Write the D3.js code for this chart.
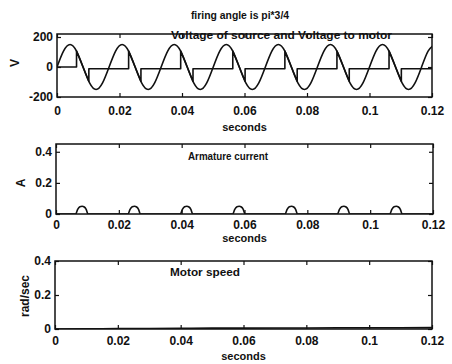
<!DOCTYPE html>
<html>
<head>
<meta charset="utf-8">
<script src="https://cdn.jsdelivr.net/npm/d3@7"></script>
<style>
  body { margin: 0; background: #fff; }
  svg text { font-family: "Liberation Sans", Arial, sans-serif; font-weight: bold; fill: #111; }
</style>
</head>
<body>
<div id="chart"></div>
<script>
// x ticks shared by all three panels
const xTicks = [0, 0.02, 0.04, 0.06, 0.08, 0.1, 0.12];
const xTickLabels = ["0", "0.02", "0.04", "0.06", "0.08", "0.1", "0.12"];

// source voltage (read every 1/8 period)
const srcT = [0, 0.00208, 0.00417, 0.00625, 0.00833, 0.01042, 0.0125, 0.01458,
  0.01667, 0.01875, 0.02083, 0.02292, 0.025, 0.02708, 0.02917, 0.03125,
  0.03333, 0.03542, 0.0375, 0.03958, 0.04167, 0.04375, 0.04583, 0.04792,
  0.05, 0.05208, 0.05417, 0.05625, 0.05833, 0.06042, 0.0625, 0.06458,
  0.06667, 0.06875, 0.07083, 0.07292, 0.075, 0.07708, 0.07917, 0.08125,
  0.08333, 0.08542, 0.0875, 0.08958, 0.09167, 0.09375, 0.09583, 0.09792,
  0.1, 0.10208, 0.10417, 0.10625, 0.10833, 0.11042, 0.1125, 0.11458,
  0.11667, 0.11875, 0.12083];
const srcV = [0, 106, 150, 106, 0, -106, -150, -106,
  0, 106, 150, 106, 0, -106, -150, -106,
  0, 106, 150, 106, 0, -106, -150, -106,
  0, 106, 150, 106, 0, -106, -150, -106,
  0, 106, 150, 106, 0, -106, -150, -106,
  0, 106, 150, 106, 0, -106, -150, -106,
  0, 106, 150, 106, 0, -106, -150, -106,
  0, 106, 150];

// voltage to motor (firing at 3pi/4, conduction ends around 220 deg)
const motT = [0, 0.00625, 0.00625, 0.00833, 0.01019, 0.01019,
  0.02292, 0.02292, 0.025, 0.02686, 0.02686,
  0.03958, 0.03958, 0.04167, 0.04352, 0.04352,
  0.05625, 0.05625, 0.05833, 0.06019, 0.06019,
  0.07292, 0.07292, 0.075, 0.07686, 0.07686,
  0.08958, 0.08958, 0.09167, 0.09352, 0.09352,
  0.10625, 0.10625, 0.10833, 0.11019, 0.11019, 0.12];
const motV = [0, 0, 106, 0, -95, -12,
  -12, 106, 0, -95, -12,
  -12, 106, 0, -95, -12,
  -12, 106, 0, -95, -12,
  -12, 106, 0, -95, -12,
  -12, 106, 0, -95, -12,
  -12, 106, 0, -95, -12, -12];

// armature current
const curT = [0,
  0.00625, 0.0069, 0.0076, 0.0083, 0.009, 0.0096, 0.01019,
  0.02292, 0.02357, 0.02427, 0.02497, 0.02567, 0.02627, 0.02686,
  0.03958, 0.04023, 0.04093, 0.04163, 0.04233, 0.04293, 0.04352,
  0.05625, 0.0569, 0.0576, 0.0583, 0.059, 0.0596, 0.06019,
  0.07292, 0.07357, 0.07427, 0.07497, 0.07567, 0.07627, 0.07686,
  0.08958, 0.09023, 0.09093, 0.09163, 0.09233, 0.09293, 0.09352,
  0.10625, 0.1069, 0.1076, 0.1083, 0.109, 0.1096, 0.11019,
  0.12];
const curA = [0,
  0, 0.03, 0.047, 0.05, 0.045, 0.03, 0,
  0, 0.03, 0.047, 0.05, 0.045, 0.03, 0,
  0, 0.03, 0.047, 0.05, 0.045, 0.03, 0,
  0, 0.03, 0.047, 0.05, 0.045, 0.03, 0,
  0, 0.03, 0.047, 0.05, 0.045, 0.03, 0,
  0, 0.03, 0.047, 0.05, 0.045, 0.03, 0,
  0, 0.03, 0.047, 0.05, 0.045, 0.03, 0,
  0];

// motor speed
const spdT = [0, 0.01, 0.02, 0.03, 0.04, 0.05, 0.06, 0.07, 0.08, 0.09, 0.1, 0.11, 0.12];
const spdW = [0, 0.001, 0.002, 0.003, 0.004, 0.005, 0.005, 0.006, 0.006, 0.007, 0.007, 0.007, 0.008];

const width = 452, height = 364;
const svg = d3.select("#chart").append("svg")
  .attr("width", width)
  .attr("height", height);

// title
svg.append("text")
  .attr("x", 240)
  .attr("y", 19)
  .attr("text-anchor", "middle")
  .style("font-size", "10.4px")
  .text("firing angle is pi*3/4");

function drawPanel(p) {
  const x = d3.scaleLinear().domain([0, 0.12]).range([p.left, p.right]);
  const y = d3.scaleLinear().domain(p.yDomain).range([p.bottom, p.top]);
  const g = svg.append("g");

  // clip so curves stay inside the box
  g.append("clipPath").attr("id", p.id)
    .append("rect")
    .attr("x", p.left).attr("y", p.top)
    .attr("width", p.right - p.left).attr("height", p.bottom - p.top);

  // bottom axis with labels, inward ticks
  const xb = g.append("g")
    .attr("transform", `translate(0,${p.bottom})`)
    .call(d3.axisBottom(x).tickValues(xTicks)
      .tickFormat((d, i) => xTickLabels[i])
      .tickSizeInner(-4).tickSizeOuter(0).tickPadding(p.xPad));
  // top ticks
  const xt = g.append("g")
    .attr("transform", `translate(0,${p.top})`)
    .call(d3.axisTop(x).tickValues(xTicks).tickFormat("").tickSizeInner(-4).tickSizeOuter(0));
  // left axis
  const yl = g.append("g")
    .attr("transform", `translate(${p.left},0)`)
    .call(d3.axisLeft(y).tickValues(p.yTicks)
      .tickFormat((d, i) => p.yLabels[i])
      .tickSizeInner(-4).tickSizeOuter(0).tickPadding(4));
  // right ticks
  const yr = g.append("g")
    .attr("transform", `translate(${p.right},0)`)
    .call(d3.axisRight(y).tickValues(p.yTicks).tickFormat("").tickSizeInner(-4).tickSizeOuter(0));

  [xb, xt, yl, yr].forEach(a => {
    a.select(".domain").remove();
    a.selectAll("line").attr("stroke", "#111").attr("stroke-width", 1.2);
    a.selectAll("text").style("font-size", "12px").attr("fill", "#111");
  });

  // box
  g.append("rect")
    .attr("x", p.left).attr("y", p.top)
    .attr("width", p.right - p.left).attr("height", p.bottom - p.top)
    .attr("fill", "none")
    .attr("stroke", "#111")
    .attr("stroke-width", 1.5);

  // x label
  g.append("text")
    .attr("x", (p.left + p.right) / 2)
    .attr("y", p.secY)
    .attr("text-anchor", "middle")
    .style("font-size", "11px")
    .text("seconds");

  // y label
  g.append("text")
    .attr("transform", `translate(${p.yLabX},${p.yLabY}) rotate(-90)`)
    .attr("text-anchor", "middle")
    .style("font-size", "12px")
    .text(p.yLabel);

  // text inside the axes
  g.append("text")
    .attr("x", p.noteX)
    .attr("y", p.noteY)
    .attr("textLength", p.noteW)
    .attr("lengthAdjust", "spacingAndGlyphs")
    .style("font-size", p.noteSize)
    .text(p.note);

  return { x, y, g };
}

function drawLine(panel, id, xs, ys, curve) {
  const pts = xs.map((t, i) => [t, ys[i]]);
  panel.g.append("path")
    .datum(pts)
    .attr("clip-path", `url(#${id})`)
    .attr("fill", "none")
    .attr("stroke", "#111")
    .attr("stroke-width", 1.6)
    .attr("stroke-linejoin", "round")
    .attr("d", d3.line()
      .x(d => panel.x(d[0]))
      .y(d => panel.y(d[1]))
      .curve(curve));
}

// panel 1: voltages
const p1 = drawPanel({
  id: "c1", left: 57, right: 432, top: 34, bottom: 97,
  yDomain: [-200, 220], yTicks: [-200, 0, 200], yLabels: ["-200", "0", "200"],
  xPad: 9, secY: 131, yLabel: "V", yLabX: 19, yLabY: 63,
  note: "Voltage of source and Voltage to motor", noteX: 171, noteY: 38.5, noteW: 221, noteSize: "11.5px"
});
drawLine(p1, "c1", srcT, srcV, d3.curveNatural);
drawLine(p1, "c1", motT, motV, d3.curveLinear);

// panel 2: armature current
const p2 = drawPanel({
  id: "c2", left: 56, right: 433, top: 144, bottom: 214,
  yDomain: [0, 0.45], yTicks: [0, 0.2, 0.4], yLabels: ["0", "0.2", "0.4"],
  xPad: 6, secY: 242, yLabel: "A", yLabX: 25, yLabY: 183,
  note: "Armature current", noteX: 188, noteY: 160, noteW: 80, noteSize: "11px"
});
drawLine(p2, "c2", curT, curA, d3.curveMonotoneX);

// panel 3: motor speed
const p3 = drawPanel({
  id: "c3", left: 55, right: 432, top: 261, bottom: 329,
  yDomain: [0, 0.4], yTicks: [0, 0.2, 0.4], yLabels: ["0", "0.2", "0.4"],
  xPad: 7, secY: 360, yLabel: "rad/sec", yLabX: 29, yLabY: 296,
  note: "Motor speed", noteX: 170, noteY: 276, noteW: 70, noteSize: "11px"
});
drawLine(p3, "c3", spdT, spdW, d3.curveMonotoneX);
</script>
</body>
</html>
